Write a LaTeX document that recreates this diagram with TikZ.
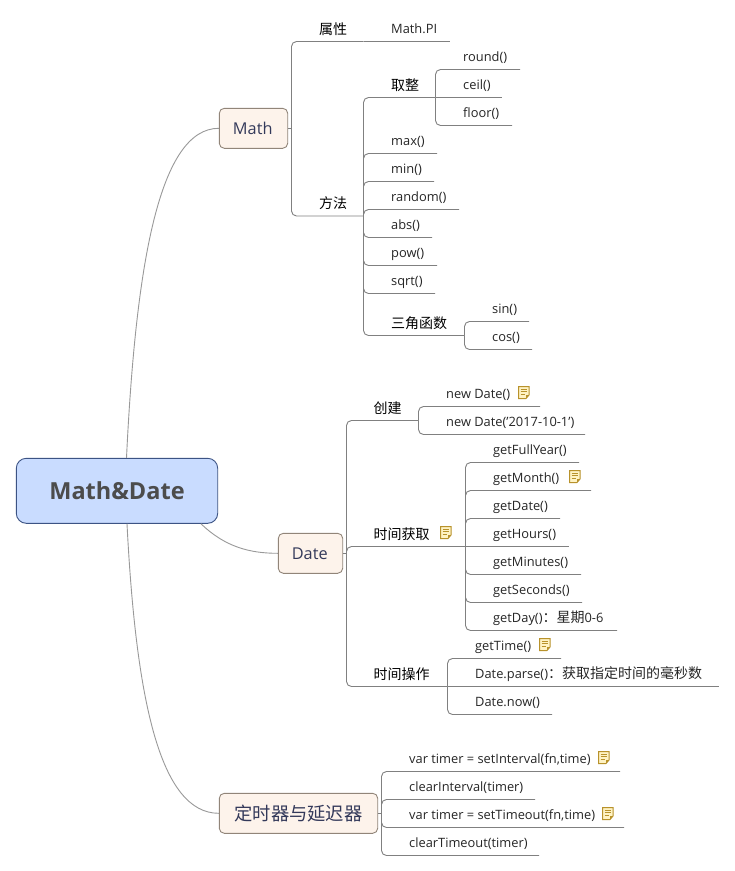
\documentclass[tikz,border=0pt]{standalone}
\usepackage{fontspec}
\setmainfont{Open Sans}
\newfontfamily\cjk{Noto Sans CJK SC}
\definecolor{conncol}{HTML}{808080}
\definecolor{curvecol}{HTML}{999999}
\definecolor{inkcol}{HTML}{262626}
\definecolor{rootfill}{HTML}{C9DCFF}
\definecolor{rootline}{HTML}{3C5384}
\definecolor{topicfill}{HTML}{FDF3EB}
\definecolor{topicline}{HTML}{918579}
\definecolor{topicink}{HTML}{33395A}
\definecolor{notegold}{HTML}{B8922B}
\definecolor{notefill}{HTML}{FFF3C4}
\tikzset{
  x=1pt,y=-1pt,
  conn/.style={draw=conncol,line width=0.9pt,rounded corners=5pt},
  straightconn/.style={draw=conncol,line width=0.9pt},
  curve/.style={draw=curvecol,line width=0.9pt},
  lbl/.style={anchor=base west,inner sep=0pt,text=inkcol,font=\fontsize{12.85}{15}\selectfont},
  cjklbl/.style={lbl,font=\fontsize{14}{16}\selectfont\cjk,text=black},
  topic/.style={draw=topicline,fill=topicfill,line width=0.9pt,rounded corners=5pt,minimum height=40pt,inner sep=0pt,text=topicink},
  rootbox/.style={draw=rootline,fill=rootfill,line width=0.9pt,rounded corners=10pt,minimum width=201.4pt,minimum height=65pt,inner sep=0pt,text=black!70,font=\fontsize{23.5}{27}\selectfont\bfseries},
  noteicon/.pic={
    \path[draw=notegold,fill=notefill,line width=1pt] (0,0) -- (10.5,0) -- (10.5,8.5) -- (7.5,12) -- (0,12) -- cycle;
    \path[draw=notegold,line width=0.8pt] (2,2.8) -- (8.5,2.8) (2,5.2) -- (8.5,5.2) (2,7.6) -- (6.5,7.6);
    \path[fill=notegold] (10.5,8.5) -- (7.5,8.5) -- (7.5,12) -- cycle;
  }
}
% name, hub, text x, line y, end x, text
\newcommand\leafnode[6]{%
  \node[lbl] (#1) at (#3,#4-8) {#6};
  \coordinate (#1e) at (#5,#4);
  \draw[conn] (#2) |- (#1e);
}
\newcommand\leafflat[6]{%
  \node[lbl] (#1) at (#3,#4-8) {#6};
  \coordinate (#1e) at (#5,#4);
  \draw[straightconn] (#2) -- (#1e);
}
\newcommand\branchnode[6]{%
  \node[cjklbl] (#1) at (#3,#4-7.5) {#6};
  \coordinate (#1e) at (#5,#4);
  \draw[conn] (#2) |- (#1e);
}
\begin{document}
\begin{tikzpicture}
\useasboundingbox (0,0) rectangle (735,871);
\fill[white] (0,0) rectangle (735,871);

% main topics
\node[rootbox] (root) at (117,490.8) {Math\&Date};
\node[topic,minimum width=68.4pt,font=\fontsize{16.3}{19}\selectfont,text depth=0pt] (math) at (253.5,128.3) {\kern-1.5pt Math};
\node[topic,minimum width=64.4pt,font=\fontsize{16.3}{19}\selectfont] (date) at (310.5,553.3) {\kern-1.5pt Date};
\node[topic,minimum width=158.4pt,font=\fontsize{18.3}{20}\selectfont\cjk] (timer) at (298.5,813.3) {定时器与延迟器};

\draw[curve] ([xshift=9.5pt]root.north) .. controls (136,260) and (160,128.3) .. (math.west);
\draw[curve] ([xshift=84pt]root.south) .. controls (225,547) and (250,553.3) .. (date.west);
\draw[curve] ([xshift=10pt]root.south) .. controls (136,700) and (160,813.3) .. (timer.west);

% Math
\coordinate (mhub) at (291.5,128.3);
\draw[straightconn] (math.east) -- (mhub);
\branchnode{prop}{mhub}{319}{41.5}{363.5}{属性}
\coordinate (phub) at (363.5,41.5);
\leafflat{pi}{phub}{391}{41.5}{450}{Math.PI}
\branchnode{meth}{mhub}{319}{216}{363.5}{方法}
\coordinate (fhub) at (363.5,216);
\branchnode{quz}{fhub}{391}{97.5}{435.5}{取整}
\coordinate (qhub) at (435.5,97.5);
\leafnode{round}{qhub}{463}{69.5}{520}{round()}
\leafflat{ceil}{qhub}{463}{97.5}{502}{ceil()}
\leafnode{floor}{qhub}{463}{125.5}{512}{floor()}
\leafnode{max}{fhub}{391}{153.5}{437}{max()}
\leafnode{min}{fhub}{391}{181.5}{434}{min()}
\leafnode{random}{fhub}{391}{209.5}{459}{random()}
\leafnode{abs}{fhub}{391}{237.5}{432}{abs()}
\leafnode{pow}{fhub}{391}{265.5}{437}{pow()}
\leafnode{sqrt}{fhub}{391}{293.5}{435}{sqrt()}
\branchnode{trig}{fhub}{391}{335.5}{464.5}{三角函数}
\coordinate (thub) at (464.5,335.5);
\leafnode{sin}{thub}{492}{321.5}{529}{sin()}
\leafnode{cos}{thub}{492}{349.5}{532}{cos()}

% Date
\coordinate (dhub) at (346.5,553.3);
\draw[straightconn] (date.east) -- (dhub);
\branchnode{create}{dhub}{373.5}{420.5}{418.5}{创建}
\coordinate (chub) at (418.5,420.5);
\leafnode{nd}{chub}{446}{406.5}{540}{new Date()}
\leafnode{nds}{chub}{446}{434.5}{585}{new Date('2017-10-1')}
\branchnode{get}{dhub}{373.5}{546.5}{465.5}{时间获取}
\coordinate (ghub) at (465.5,546.5);
\leafnode{gfy}{ghub}{493}{462.5}{579}{getFullYear()}
\leafnode{gmo}{ghub}{493}{490.5}{591}{getMonth()}
\leafnode{gda}{ghub}{493}{518.5}{560}{getDate()}
\leafflat{gho}{ghub}{493}{546.5}{569}{getHours()}
\leafnode{gmi}{ghub}{493}{574.5}{581}{getMinutes()}
\leafnode{gse}{ghub}{493}{602.5}{582}{getSeconds()}
\leafnode{gdy}{ghub}{493}{630.5}{617}{getDay(){\cjk\fontsize{14}{16}\selectfont ：星期}0-6}
\branchnode{op}{dhub}{373.5}{686.5}{447.5}{时间操作}
\coordinate (ohub) at (447.5,686.5);
\leafnode{gti}{ohub}{475}{658.5}{561}{getTime()}
\leafflat{dpa}{ohub}{475}{686.5}{719}{Date.parse(){\cjk\fontsize{14}{16}\selectfont ：获取指定时间的毫秒数}}
\leafnode{dno}{ohub}{475}{714.5}{552}{Date.now()}

% Timer
\coordinate (thb) at (381.5,813.3);
\draw[straightconn] (timer.east) -- (thb);
\leafnode{si}{thb}{409}{771.5}{620}{var timer = setInterval(fn,time)}
\leafnode{ci}{thb}{409}{799.5}{535}{clearInterval(timer)}
\leafnode{st}{thb}{409}{827.5}{624}{var timer = setTimeout(fn,time)}
\leafnode{ct}{thb}{409}{855.5}{539}{clearTimeout(timer)}

% note icons
\pic at (518.5,386.5) {noteicon};
\pic at (569.5,470.5) {noteicon};
\pic at (440.5,526.5) {noteicon};
\pic at (539.5,638.5) {noteicon};
\pic at (598.5,751.5) {noteicon};
\pic at (602.5,807.5) {noteicon};
\end{tikzpicture}
\end{document}
